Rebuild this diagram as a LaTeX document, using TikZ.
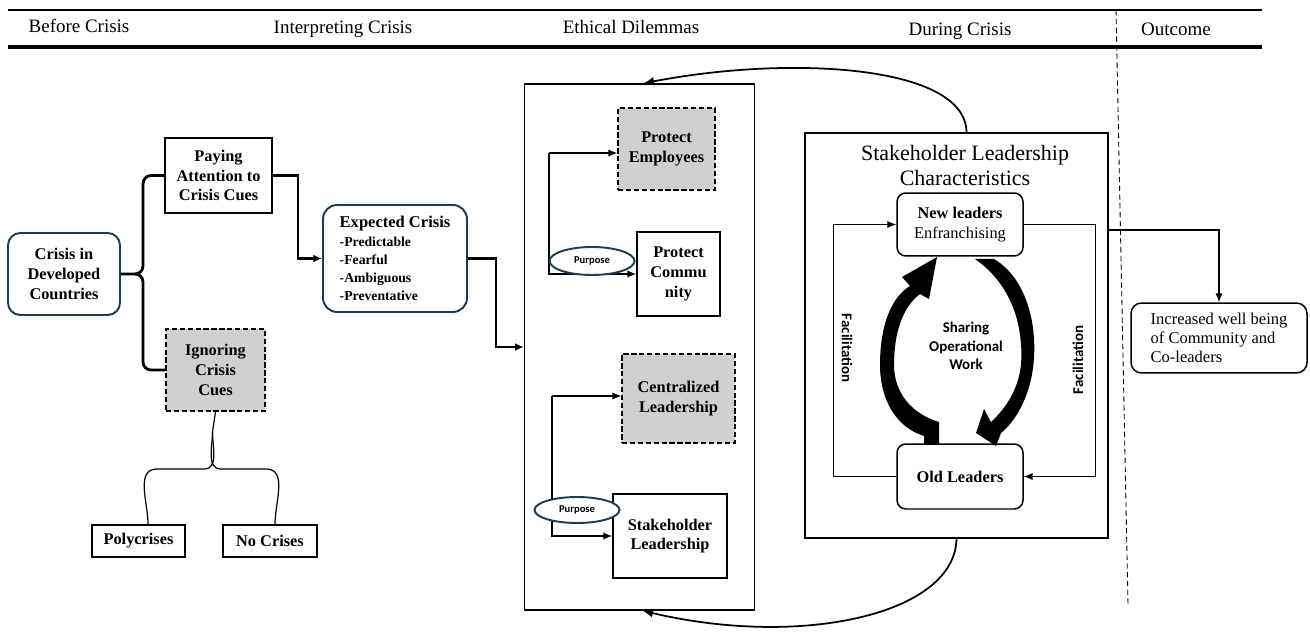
\documentclass[tikz,border=0pt]{standalone}
\usepackage{fontspec}
\setmainfont{Liberation Serif}
\newfontfamily\calfont{Carlito}
\usetikzlibrary{arrows.meta,shapes.geometric,calc}
\definecolor{tealdark}{HTML}{1E3D4F}
\definecolor{boxgray}{HTML}{D0D0D0}
\begin{document}
\begin{tikzpicture}[x=0.02cm,y=-0.02cm,
  hdr/.style={anchor=base,font=\fontsize{10.8}{13}\selectfont},
  box/.style={draw=black,line width=0.85pt,align=center,inner sep=0pt,
    font=\fontsize{9.3}{11.3}\selectfont\bfseries},
  graybox/.style={box,fill=boxgray,dash pattern=on 3pt off 1.5pt},
  tealbox/.style={box,draw=tealdark,line width=1.1pt,rounded corners=7pt},
  leadbox/.style={box,rounded corners=5pt},
  purp/.style={ellipse,draw=tealdark,line width=1.1pt,fill=white,inner sep=0pt,
    font=\calfont\bfseries\fontsize{6}{7}\selectfont},
  thinarrow/.style={line width=0.6pt,-{Latex[length=5pt,width=4pt]}},
  thickarrow/.style={line width=1.3pt,-{Latex[length=5pt,width=4.5pt]}},
  bracepath/.style={line width=1.6pt},
  fac/.style={font=\calfont\bfseries\fontsize{8.5}{10}\selectfont},
  curvedlink/.style={line width=1pt,-{Latex[length=6pt,width=5pt]}}]
\useasboundingbox (0,0) rectangle (1310,638);

% header
\draw[line width=1.5pt] (8,10) -- (1262,10);
\draw[line width=1.9pt] (8,47) -- (1262,47);
\draw[line width=0.5pt,dash pattern=on 3pt off 2pt] (1116,10) -- (1128,605);
\node[hdr] (h1) at (79,33) {Before Crisis};
\node[hdr] (h2) at (343,34) {Interpreting Crisis};
\node[hdr] (h3) at (631,34) {Ethical Dilemmas};
\node[hdr] (h4) at (960,36) {During Crisis};
\node[hdr] (h5) at (1176,36) {Outcome};

% before crisis
\node[tealbox,minimum width=2.24cm,minimum height=1.64cm] (crisis) at (64,274) {Crisis in\\Developed\\Countries};
\node[box,minimum width=2.14cm,minimum height=1.5cm] (pay) at (218.5,175.5) {Paying\\Attention to\\Crisis Cues};
\node[graybox,minimum width=1.98cm,minimum height=1.64cm] (ign) at (215.5,370) {Ignoring\\Crisis\\Cues};
\node[box,minimum width=1.86cm,minimum height=0.64cm] (poly) at (138.5,541) {Polycrises};
\node[box,minimum width=1.88cm,minimum height=0.64cm] (nocr) at (270,541) {No Crises};

\draw[bracepath] (pay.west) -- (151,175.5) to[out=180,in=90] (143,184) -- (143,266) to[out=-90,in=0] (135,274) -- (crisis.east);
\draw[bracepath] (ign.west) -- (151,370) to[out=180,in=-90] (143,362) -- (143,282) to[out=90,in=0] (135,274);

\draw[line width=0.7pt] (ign.south) -- (212.5,432) to[out=-90,in=0] (204,469) -- (157,469) to[out=180,in=90] ($(poly.north)+(9.5,0)$);
\draw[line width=0.7pt] (212.5,432) to[out=-90,in=180] (221,469) -- (266,469) to[out=0,in=90] ($(nocr.north)+(5,0)$);

% interpreting
\node[tealbox,rounded corners=8pt,minimum width=2.88cm,minimum height=2.14cm,align=left] (exp) at (395,258.5)
 {{\fontsize{9.4}{12}\selectfont Expected Crisis}\\[-1pt]
  {\fontsize{7.8}{9.6}\selectfont -Predictable}\\[-1pt]
  {\fontsize{7.8}{9.6}\selectfont -Fearful}\\[-1pt]
  {\fontsize{7.8}{9.6}\selectfont -Ambiguous}\\[-1pt]
  {\fontsize{7.8}{9.6}\selectfont -Preventative}};
\draw[thickarrow] (pay.east) -- ++(25,0) |- (exp.west);

% ethical dilemmas
\node[draw,line width=0.85pt,minimum width=4.6cm,minimum height=10.52cm,inner sep=0pt] (eth) at (639.5,347) {};
\draw[thickarrow] (exp.east) -- ++(28,0) |- (eth.west);
\node[graybox,minimum width=1.94cm,minimum height=1.64cm] (emp) at (666.5,149) {Protect\\Employees};
\node[box,minimum width=1.66cm,minimum height=1.68cm] (com) at (678.5,274) {Protect\\Commu\\nity};
\node[graybox,minimum width=2.26cm,minimum height=1.78cm] (cen) at (678.5,398.5) {Centralized\\Leadership};
\node[box,minimum width=2.28cm,minimum height=1.68cm] (stk) at (670,536) {Stakeholder\\Leadership};
\coordinate (f1) at (549,153);
\coordinate (f2) at (552,396);
\draw[thinarrow] (f1) -- (f1 -| emp.west);
\draw[thinarrow] (f1) |- (com.west);
\draw[thinarrow] (f2) -- (f2 -| cen.west);
\draw[thinarrow] (f2) |- (stk.west);
\node[purp,minimum width=1.7cm,minimum height=0.56cm] (p1) at (592,261) {Purpose};
\node[purp,minimum width=1.7cm,minimum height=0.52cm] (p2) at (577,510) {Purpose};

% during crisis
\node[draw,line width=0.85pt,minimum width=6.06cm,minimum height=8.1cm,inner sep=0pt] (slc) at (956.5,335.5) {};
\node[font=\fontsize{12.5}{14.7}\selectfont,align=center] (slct) at (965,165.5) {Stakeholder Leadership\\Characteristics};
\node[leadbox,minimum width=2.52cm,minimum height=1.26cm] (new) at (960,224.5) {New leaders\\\mdseries Enfranchising};
\node[leadbox,minimum width=2.52cm,minimum height=1.3cm] (old) at (960,476.5) {Old Leaders};
\draw[thinarrow] (old.west) -- ++(-63,0) |- (new.west);
\draw[thinarrow] (new.east) -- ++(72,0) |- (old.east);
\node[fac,rotate=-90] (fl) at (847,348) {Facilitation};
\node[fac,rotate=90] (fr) at (1078,360) {Facilitation};
\node[fac,align=center,font=\calfont\bfseries\fontsize{8.5}{10.5}\selectfont] (share) at (966,346) {Sharing\\Operational\\Work};

% thick curved arrows
\fill (924,444) -- (924,436) .. controls (898,428) and (880,402) .. (880,365)
  .. controls (880,322) and (893,296) .. (910,286) -- (902,277) -- (937,257) -- (929,299) -- (920,294)
  .. controls (904,306) and (894,330) .. (894,365)
  .. controls (894,393) and (912,414) .. (939,422) -- (939,444) -- cycle;
\fill (975,259) -- (994,259) .. controls (1029,280) and (1038,330) .. (1033,368)
  .. controls (1029,398) and (1015,422) .. (1001,433) -- (996,446) -- (976,433) -- (984,409) -- (991,422)
  .. controls (1006,408) and (1018,390) .. (1021,365)
  .. controls (1024,320) and (1008,282) .. (975,259) -- cycle;

% curved links between boxes
\draw[curvedlink] ($(slc.north)+(10,0)$) .. controls (966,65) and (790,55) .. ($(eth.north)+(4,0)$);
\draw[curvedlink] (slc.south) .. controls (955,615) and (800,648) .. ($(eth.south)+(3,0)$);

% outcome
\node[box,rounded corners=6pt,minimum width=3.52cm,minimum height=1.4cm,align=left,
  font=\fontsize{9.4}{10.8}\selectfont] (out) at (1219,338) {Increased well being\\of Community and\\Co-leaders};
\coordinate (ocs) at (1108,230);
\draw[thinarrow] (ocs) -| (out.north);
\end{tikzpicture}
\end{document}
